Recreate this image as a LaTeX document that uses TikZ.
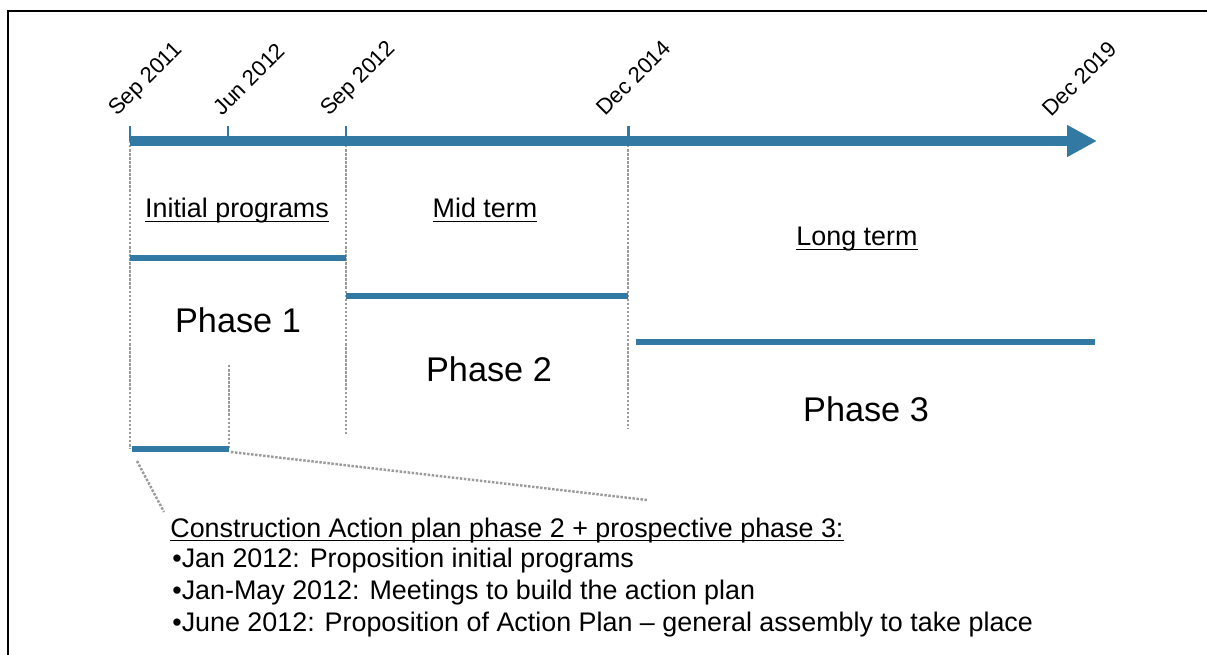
\documentclass[tikz,border=0pt]{standalone}
\usepackage{fontspec}
\setmainfont{Liberation Sans}
\usetikzlibrary{arrows.meta}
\definecolor{planblue}{RGB}{50,121,163}
\definecolor{guidegray}{RGB}{155,155,155}
\newcommand\ulin[1]{\setbox0\hbox{#1}\rlap{\rule[-2.3pt]{\wd0}{0.8pt}}\box0}
\tikzset{
  timeaxis/.style={planblue, line width=5.7pt, -{Triangle[length=17pt,width=17pt]}},
  datetick/.style={planblue, line width=1.7pt},
  datelabel/.style={rotate=45, anchor=base west, inner sep=0pt, font=\fontsize{12.6}{14}\selectfont},
  phasebar/.style={planblue, line width=3.6pt},
  guide/.style={guidegray, line width=1.4pt, dash pattern=on 1.4pt off 0.9pt},
  termlabel/.style={anchor=base, inner sep=0pt, font=\fontsize{15.3}{17}\selectfont},
  phaselabel/.style={anchor=base, inner sep=0pt, font=\fontsize{19.5}{22}\selectfont},
  plantext/.style={anchor=base west, inner sep=0pt, font=\fontsize{15.3}{17}\selectfont}
}
\begin{document}
\begin{tikzpicture}[x=0.02cm,y=-0.02cm]
\useasboundingbox (0,0) rectangle (1207,655);
% frame
\draw[line width=1.2pt] (8,655) -- (8,11) -- (1207,11);
% points on the time axis
\coordinate (sep11) at (130,141);
\coordinate (jun12) at (228,141);
\coordinate (sep12) at (346,141);
\coordinate (dec14) at (628,141);
\coordinate (dec19) at (1097,141);
% bar ends
\coordinate (p1a) at (130,258);
\coordinate (p1b) at (346,258);
\coordinate (p2a) at (346,296);
\coordinate (p2b) at (628,296);
\coordinate (p3a) at (636,342);
\coordinate (p3b) at (1095,342);
\coordinate (sba) at (132,449);
\coordinate (sbb) at (229,449);
% dotted guides
\draw[guide] (sep11) -- (130,449);
\draw[guide] (sep12) -- (346,435);
\draw[guide] (dec14) -- (628,428);
\draw[guide] (229,365) -- (sbb);
\draw[guide] (137,461) -- (164,512);
\draw[guide] (231,452) -- (647,500);
% axis
\draw[timeaxis] (sep11) -- (dec19);
\foreach \tx/\lx/\when [count=\i] in {130/117/Sep 2011, 228/222/Jun 2012, 346/329/Sep 2012, 628/605/Dec 2014}{
  \draw[datetick] (\tx,141) -- (\tx,126);
  \node[datelabel] (date\i) at (\lx,117) {\when};
}
\node[datelabel] (date5) at (1051,118) {Dec 2019};
% phases
\draw[phasebar] (p1a) -- (p1b);
\draw[phasebar] (p2a) -- (p2b);
\draw[phasebar] (p3a) -- (p3b);
\draw[phasebar] (sba) -- (sbb);
\node[termlabel] (initial) at (237,218) {\ulin{Initial programs}};
\node[termlabel] (mid) at (485,218) {\ulin{Mid term}};
\node[termlabel] (long) at (857,246) {\ulin{Long term}};
\node[phaselabel] (phase1) at (238,333) {Phase 1};
\node[phaselabel] (phase2) at (489,381) {Phase 2};
\node[phaselabel] (phase3) at (866,421) {Phase 3};
% action plan
\node[plantext] (planhead) at (170,537) {\ulin{Construction Action plan phase 2 + prospective phase 3:}};
\node[plantext] (plan1) at (172,567) {•Jan 2012: Proposition initial programs};
\node[plantext] (plan2) at (172,599) {•Jan-May 2012: Meetings to build the action plan};
\node[plantext] (plan3) at (172,631) {•June 2012: Proposition of Action Plan – general assembly to take place};
\end{tikzpicture}
\end{document}
